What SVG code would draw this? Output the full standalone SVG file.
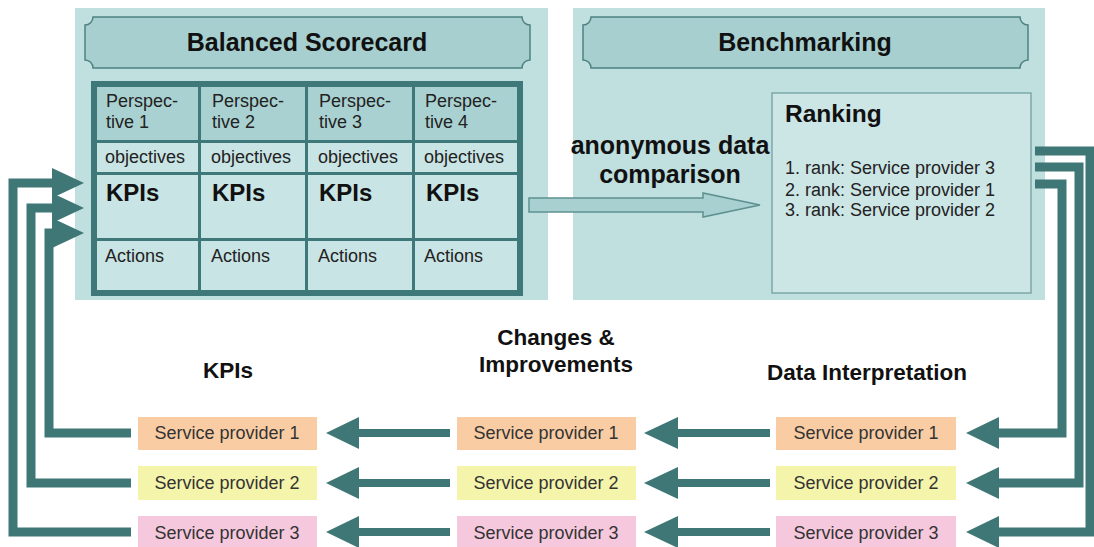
<svg xmlns="http://www.w3.org/2000/svg" width="1094" height="547" viewBox="0 0 1094 547">
<style>
text{font-family:"Liberation Sans",Arial,sans-serif;}
.panel{fill:#c0dfdf;}
.banner{fill:#a7cfcf;stroke:#4d8282;stroke-width:1.5;}
.hdr{font-size:25px;font-weight:bold;fill:#111;text-anchor:middle;}
.cellA{fill:#a9d1d1;}
.cellB{fill:#c9e4e4;}
.ct{font-size:18px;fill:#222;}
.kpi{font-size:24px;font-weight:bold;fill:#111;}
.lbl{font-size:22.5px;font-weight:bold;fill:#111;text-anchor:middle;}
.big{font-size:25px;}
.sp{font-size:18px;fill:#333;text-anchor:middle;}
.c1{fill:#f9cca4;}
.c2{fill:#f5f4ab;}
.c3{fill:#f5c8dd;}
.conn{fill:none;stroke:#3f7777;stroke-width:9;stroke-linejoin:miter;}
.shaft{fill:none;stroke:#3f7777;stroke-width:8;}
.head{fill:#3f7777;}
</style>

<g id="balanced-scorecard">
<rect class="panel" x="75" y="8" width="473" height="292"/>
<path class="banner" d="M93,17 L522,17 A8,8 0 0 0 530,25 L530,60 A8,8 0 0 0 522,68 L93,68 A8,8 0 0 0 85,60 L85,25 A8,8 0 0 0 93,17 Z"/>
<text class="hdr" x="307" y="51">Balanced Scorecard</text>
<rect x="91" y="81" width="432" height="215" fill="#3f7878"/>
<rect class="cellA" x="97" y="87" width="101" height="53"/>
<rect class="cellA" x="201" y="87" width="104" height="53"/>
<rect class="cellA" x="308" y="87" width="104" height="53"/>
<rect class="cellA" x="415" y="87" width="102" height="53"/>
<rect class="cellB" x="97" y="143" width="101" height="29"/>
<rect class="cellB" x="201" y="143" width="104" height="29"/>
<rect class="cellB" x="308" y="143" width="104" height="29"/>
<rect class="cellB" x="415" y="143" width="102" height="29"/>
<rect class="cellB" x="97" y="175" width="101" height="63"/>
<rect class="cellB" x="201" y="175" width="104" height="63"/>
<rect class="cellB" x="308" y="175" width="104" height="63"/>
<rect class="cellB" x="415" y="175" width="102" height="63"/>
<rect class="cellB" x="97" y="241" width="101" height="49"/>
<rect class="cellB" x="201" y="241" width="104" height="49"/>
<rect class="cellB" x="308" y="241" width="104" height="49"/>
<rect class="cellB" x="415" y="241" width="102" height="49"/>
<text class="ct" x="106" y="107">Perspec-</text><text class="ct" x="106" y="128">tive 1</text>
<text class="ct" x="212" y="107">Perspec-</text><text class="ct" x="212" y="128">tive 2</text>
<text class="ct" x="319" y="107">Perspec-</text><text class="ct" x="319" y="128">tive 3</text>
<text class="ct" x="425" y="107">Perspec-</text><text class="ct" x="425" y="128">tive 4</text>
<text class="ct" x="105" y="163">objectives</text>
<text class="ct" x="211" y="163">objectives</text>
<text class="ct" x="318" y="163">objectives</text>
<text class="ct" x="424" y="163">objectives</text>
<text class="kpi" x="106" y="201">KPIs</text>
<text class="kpi" x="212" y="201">KPIs</text>
<text class="kpi" x="319" y="201">KPIs</text>
<text class="kpi" x="426" y="201">KPIs</text>
<text class="ct" x="105" y="262">Actions</text>
<text class="ct" x="211" y="262">Actions</text>
<text class="ct" x="318" y="262">Actions</text>
<text class="ct" x="424" y="262">Actions</text>
</g>

<g id="benchmarking">
<rect class="panel" x="573" y="8" width="472" height="292"/>
<path class="banner" d="M591,17 L1020,17 A8,8 0 0 0 1028,25 L1028,60 A8,8 0 0 0 1020,68 L591,68 A8,8 0 0 0 583,60 L583,25 A8,8 0 0 0 591,17 Z"/>
<text class="hdr" x="805" y="51">Benchmarking</text>
</g>

<g id="ranking">
<rect x="772" y="93" width="259" height="200" fill="#cce5e5" stroke="#6b9a9a" stroke-width="1.2"/>
<text x="785" y="122" font-size="24.5" font-weight="bold" fill="#111">Ranking</text>
<text class="ct" x="785" y="174" fill="#333">1. rank: Service provider 3</text>
<text class="ct" x="785" y="196" fill="#333">2. rank: Service provider 1</text>
<text class="ct" x="785" y="216" fill="#333">3. rank: Service provider 2</text>
</g>

<g id="labels">
<text class="lbl big" x="670" y="154">anonymous data</text>
<text class="lbl big" x="670" y="183">comparison</text>
<text class="lbl" x="228" y="378">KPIs</text>
<text class="lbl" x="556" y="345">Changes &amp;</text>
<text class="lbl" x="556" y="372">Improvements</text>
<text class="lbl" x="867" y="380">Data Interpretation</text>
</g>

<g id="kpi-sp1"><rect class="c1" x="138" y="417" width="179" height="33"/><text class="sp" x="227" y="439">Service provider 1</text></g>
<g id="kpi-sp2"><rect class="c2" x="138" y="466" width="179" height="34"/><text class="sp" x="227" y="489">Service provider 2</text></g>
<g id="kpi-sp3"><rect class="c3" x="138" y="516" width="179" height="34"/><text class="sp" x="227" y="539">Service provider 3</text></g>
<g id="chg-sp1"><rect class="c1" x="457" y="417" width="179" height="33"/><text class="sp" x="546" y="439">Service provider 1</text></g>
<g id="chg-sp2"><rect class="c2" x="457" y="466" width="179" height="34"/><text class="sp" x="546" y="489">Service provider 2</text></g>
<g id="chg-sp3"><rect class="c3" x="457" y="516" width="179" height="34"/><text class="sp" x="546" y="539">Service provider 3</text></g>
<g id="int-sp1"><rect class="c1" x="776" y="417" width="180" height="33"/><text class="sp" x="866" y="439">Service provider 1</text></g>
<g id="int-sp2"><rect class="c2" x="776" y="466" width="180" height="34"/><text class="sp" x="866" y="489">Service provider 2</text></g>
<g id="int-sp3"><rect class="c3" x="776" y="516" width="180" height="34"/><text class="sp" x="866" y="539">Service provider 3</text></g>

<g id="connectors">
<polygon points="529,198 703,198 703,193 760,205 703,217 703,212 529,212" fill="#a8d0d0" stroke="#5d9090" stroke-width="1.5"/>
<polyline class="conn" points="131,433 49,433 49,233 56,233"/>
<polyline class="conn" points="131,483 31,483 31,208 56,208"/>
<polyline class="conn" points="131,532 13,532 13,183 56,183"/>
<polygon class="head" points="52,218 84,233 52,248"/>
<polygon class="head" points="52,193 84,208 52,223"/>
<polygon class="head" points="52,168 84,183 52,198"/>
<polyline class="conn" points="1035,151 1090,151 1090,532 995,532"/>
<polyline class="conn" points="1035,167 1079,167 1079,483 995,483"/>
<polyline class="conn" points="1035,184 1062,184 1062,433 995,433"/>
<polygon class="head" points="999,417 966,433 999,449"/>
<polygon class="head" points="999,467 966,483 999,499"/>
<polygon class="head" points="999,516 966,532 999,548"/>
<line class="shaft" x1="770" y1="433" x2="675" y2="433"/>
<line class="shaft" x1="770" y1="483" x2="675" y2="483"/>
<line class="shaft" x1="770" y1="532" x2="675" y2="532"/>
<polygon class="head" points="678,417 644,433 678,449"/>
<polygon class="head" points="678,467 644,483 678,499"/>
<polygon class="head" points="678,516 644,532 678,548"/>
<line class="shaft" x1="450" y1="433" x2="356" y2="433"/>
<line class="shaft" x1="450" y1="483" x2="356" y2="483"/>
<line class="shaft" x1="450" y1="532" x2="356" y2="532"/>
<polygon class="head" points="359,417 326,433 359,449"/>
<polygon class="head" points="359,467 326,483 359,499"/>
<polygon class="head" points="359,516 326,532 359,548"/>
</g>
</svg>
